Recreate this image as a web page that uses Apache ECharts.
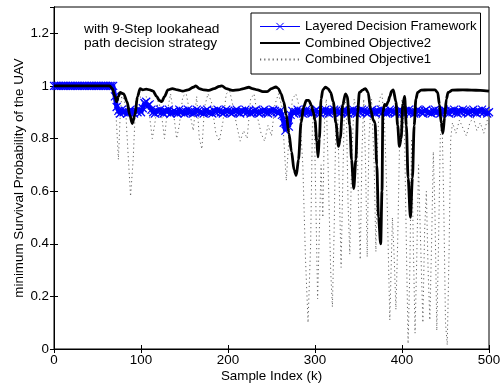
<!DOCTYPE html>
<html>
<head>
<meta charset="utf-8">
<script src="https://cdn.jsdelivr.net/npm/echarts@6/dist/echarts.min.js"></script>
<style>
  html, body { margin: 0; padding: 0; background: #fff; }
  #chart { width: 502px; height: 386px; }
</style>
</head>
<body>
<div id="chart"></div>
<script>
// survival probability vs sample index, three path decision strategies

const xTicks = [0, 100, 200, 300, 400, 500];
const yTicks = [0, 0.2, 0.4, 0.6, 0.8, 1, 1.2];

// Layered Decision Framework: one value every 2 samples (k = 0, 2, 4, ... 500)
const BLUE_STEP = 2;
const layeredY = [
  1, 1, 1, 1, 1, 1, 1, 1, 1, 1,
  1, 1, 1, 1, 1, 1, 1, 1, 1, 1,
  1, 1, 1, 1, 1, 1, 1, 1, 1, 1,
  1, 1, 1, 1, 1,
  0.96, 0.92, 0.905, 0.895, 0.91, 0.9, 0.905, 0.895, 0.9, 0.91,
  0.9, 0.895, 0.905, 0.9, 0.91, 0.9, 0.915, 0.935, 0.94, 0.925,
  0.93, 0.91, 0.9, 0.895, 0.905, 0.9, 0.91, 0.9, 0.895, 0.905,
  0.9, 0.91, 0.895, 0.9, 0.905, 0.9, 0.895, 0.91, 0.9, 0.905,
  0.895, 0.9, 0.91, 0.9, 0.905, 0.895, 0.9, 0.91, 0.905, 0.9,
  0.9, 0.895, 0.905, 0.91, 0.9, 0.9, 0.895, 0.905, 0.9, 0.91,
  0.905, 0.9, 0.895, 0.9, 0.91, 0.905, 0.9, 0.895, 0.9, 0.905,
  0.91, 0.9, 0.895, 0.905, 0.9, 0.91, 0.9, 0.905, 0.895, 0.9,
  0.905, 0.91, 0.9, 0.895, 0.9, 0.905, 0.91, 0.9, 0.895, 0.905,
  0.9, 0.91, 0.905, 0.9, 0.895,
  0.905, 0.89, 0.86, 0.83, 0.87, 0.845, 0.89, 0.905, 0.895, 0.9,
  0.91, 0.9, 0.905, 0.895, 0.9, 0.91, 0.9, 0.905, 0.895, 0.9,
  0.905, 0.91, 0.9, 0.895, 0.905, 0.9, 0.91, 0.9, 0.895, 0.905,
  0.9, 0.91, 0.905, 0.9, 0.895, 0.9, 0.905, 0.91, 0.9, 0.895,
  0.905, 0.9, 0.91, 0.9, 0.895, 0.905, 0.9, 0.91, 0.905, 0.9,
  0.895, 0.9, 0.905, 0.91, 0.9, 0.895, 0.905, 0.9, 0.91, 0.9,
  0.905, 0.895, 0.9, 0.91, 0.905, 0.9, 0.895, 0.9, 0.905, 0.91,
  0.9, 0.895, 0.905, 0.9, 0.91, 0.9, 0.905, 0.895, 0.9, 0.91,
  0.905, 0.9, 0.895, 0.905, 0.91, 0.9, 0.9, 0.895, 0.905, 0.91,
  0.9, 0.905, 0.895, 0.9, 0.91, 0.905, 0.9, 0.895, 0.905, 0.9,
  0.91, 0.9, 0.895, 0.905, 0.9, 0.91, 0.905, 0.9, 0.895, 0.9,
  0.905, 0.91, 0.9, 0.895, 0.905, 0.9, 0.91, 0.9, 0.905, 0.895,
  0.9
];

// Combined Objective2: [k, probability]
const objective2 = [
  [0, 1], [64, 1], [67, 0.99], [70, 0.96], [72, 0.94], [74, 0.96], [76, 0.975],
  [80, 0.97], [84, 0.94], [87, 0.89], [90, 0.857], [93, 0.89], [96, 0.96],
  [99, 0.99], [102, 0.985], [106, 0.988], [110, 0.985], [114, 0.98], [118, 0.96],
  [121, 0.945], [124, 0.94], [127, 0.96], [131, 0.985], [136, 0.99], [142, 0.985],
  [148, 0.98], [154, 0.985], [160, 0.995], [163, 1], [167, 0.99], [172, 0.985],
  [178, 0.983], [184, 0.99], [190, 0.998], [193, 1], [198, 0.99], [205, 0.983],
  [212, 0.985], [218, 0.99], [224, 0.995], [228, 0.99], [234, 0.985], [240, 0.978],
  [245, 0.978], [250, 0.99], [255, 0.996], [258, 0.99], [261, 0.97], [264, 0.94],
  [267, 0.89], [270, 0.82], [273, 0.75], [276, 0.68], [278.5, 0.66], [281, 0.72],
  [284, 0.86], [287, 0.92], [290, 0.945], [293, 0.945], [296, 0.925], [298, 0.9],
  [300, 0.87], [302, 0.79], [303.5, 0.73], [305, 0.8], [307, 0.95], [309, 0.985],
  [312, 0.995], [315, 0.99], [318, 0.975], [321, 0.94], [324, 0.86], [327, 0.77],
  [329, 0.8], [332, 0.93], [335, 0.97], [337, 0.96], [340, 0.85], [342, 0.72],
  [344.5, 0.61], [347, 0.72], [349, 0.9], [351, 0.975], [355, 0.985], [358, 0.99],
  [361, 0.975], [364, 0.91], [367, 0.87], [369, 0.86], [371, 0.7], [373, 0.5],
  [375.5, 0.4], [377, 0.6], [378, 0.9], [380, 0.93], [382, 0.925], [384, 0.94],
  [386, 0.96], [388, 0.98], [390, 0.985], [393, 0.94], [395, 0.85], [397, 0.77],
  [399, 0.8], [401, 0.93], [403, 0.96], [405, 0.85], [407, 0.65], [409.7, 0.5],
  [412, 0.65], [414, 0.85], [416, 0.95], [418, 0.975], [422, 0.984], [430, 0.985],
  [438, 0.985], [441, 0.975], [443, 0.93], [445, 0.86], [447, 0.82], [449, 0.88],
  [451, 0.95], [453, 0.975], [458, 0.984], [470, 0.985], [480, 0.984], [490, 0.983],
  [500, 0.98]
];

// Combined Objective1: [k, probability]
const objective1 = [
  [0, 1], [66, 1], [68, 0.98], [70, 0.95], [72, 0.85], [74, 0.72], [76, 0.88],
  [78, 0.97], [82, 0.93], [85, 0.75], [88, 0.58], [91, 0.72], [94, 0.95],
  [98, 0.97], [102, 0.93], [106, 0.96], [110, 0.88], [113, 0.8], [116, 0.86],
  [120, 0.95], [124, 0.88], [127, 0.8], [130, 0.9], [134, 0.97], [138, 0.88],
  [141, 0.8], [144, 0.85], [148, 0.96], [152, 0.97], [156, 0.9], [160, 0.83],
  [164, 0.96], [167, 0.8], [170, 0.76], [173, 0.92], [177, 0.97], [181, 0.94],
  [186, 0.82], [190, 0.79], [194, 0.86], [198, 0.97], [202, 0.98], [206, 0.92],
  [210, 0.85], [214, 0.79], [218, 0.83], [222, 0.8], [226, 0.95], [230, 0.97],
  [234, 0.88], [238, 0.82], [242, 0.79], [246, 0.85], [250, 0.81], [254, 0.93],
  [258, 0.97], [262, 0.92], [265, 0.75], [267, 0.64], [270, 0.8], [274, 0.95],
  [278, 0.97], [282, 0.92], [286, 0.7], [289, 0.35], [292, 0.1], [295, 0.4],
  [297, 0.85], [299, 0.9], [301, 0.55], [303, 0.19], [305, 0.45], [307, 0.7],
  [309, 0.5], [311, 0.88], [313, 0.95], [315, 0.7], [318, 0.3], [320, 0.16],
  [322, 0.45], [324, 0.88], [326, 0.92], [328, 0.6], [330, 0.31], [332, 0.65],
  [334, 0.95], [336, 0.92], [338, 0.55], [340, 0.36], [342, 0.7], [345, 0.95],
  [348, 0.9], [350, 0.55], [352, 0.34], [354, 0.75], [356, 0.95], [358, 0.72],
  [360, 0.35], [362, 0.8], [365, 0.95], [368, 0.7], [370, 0.37], [372, 0.78],
  [374, 0.95], [377, 0.97], [380, 0.85], [383, 0.55], [386, 0.11], [389, 0.5],
  [391, 0.35], [393, 0.15], [395, 0.4], [397, 0.75], [400, 0.95], [403, 0.8],
  [405, 0.4], [407, 0.02], [409, 0.3], [411, 0.8], [413, 0.4], [415, 0.06],
  [417, 0.35], [419, 0.7], [421, 0.45], [424, 0.1], [426, 0.45], [428, 0.6],
  [430, 0.3], [432, 0.11], [434, 0.4], [436, 0.75], [438, 0.5], [440, 0.07],
  [442, 0.4], [444, 0.8], [446, 0.88], [448, 0.55], [450, 0.1], [452, 0.015],
  [454, 0.35], [456, 0.8], [458, 0.86], [462, 0.82], [466, 0.87], [470, 0.84],
  [474, 0.81], [478, 0.86], [482, 0.88], [486, 0.83], [490, 0.86], [494, 0.82],
  [498, 0.87], [500, 0.85]
];

const FONT = '"Liberation Sans", Arial, Helvetica, sans-serif';
const labelStyle = { color: '#000', fontSize: 13.4, fontFamily: FONT };

const chart = echarts.init(document.getElementById('chart'), null, { renderer: 'canvas' });

const xBase = {
  type: 'value',
  min: xTicks[0],
  max: xTicks[xTicks.length - 1],
  interval: xTicks[1] - xTicks[0],
  nameMoveOverlap: false,
  axisLine: { show: true, lineStyle: { color: '#000', width: 1 } },
  axisTick: { show: true, inside: true, length: 4, lineStyle: { color: '#000' } },
  splitLine: { show: false },
};
const yBase = {
  type: 'value',
  min: 0,
  max: 1.3,
  interval: yTicks[1] - yTicks[0],
  nameMoveOverlap: false,
  axisLine: { show: true, lineStyle: { color: '#000', width: 1 } },
  axisTick: { show: true, inside: true, length: 4, lineStyle: { color: '#000' } },
  splitLine: { show: false },
};

chart.setOption({
  backgroundColor: '#fff',
  animation: false,
  grid: {
    left: 54, right: 13, top: 7, bottom: 37,
    outerBoundsMode: 'none',
    containLabel: false,
    show: true, borderColor: '#000', borderWidth: 1,
  },
  xAxis: [
    {
      ...xBase,
      position: 'bottom',
      axisLabel: { ...labelStyle, margin: 5 },
      name: 'Sample Index (k)',
      nameLocation: 'middle',
      nameGap: 20.5,
      nameTextStyle: labelStyle,
    },
    { ...xBase, position: 'top', axisLabel: { show: false } },
  ],
  yAxis: [
    {
      ...yBase,
      position: 'left',
      axisLabel: { ...labelStyle, margin: 5, showMaxLabel: false },
      name: 'minimum Survival Probability of the UAV',
      nameLocation: 'middle',
      nameRotate: 90,
      nameGap: 28.5,
      nameTextStyle: labelStyle,
    },
    { ...yBase, position: 'right', axisLabel: { show: false } },
  ],
  legend: {
    orient: 'vertical',
    left: 251,
    top: 13,
    itemWidth: 40,
    itemHeight: 9,
    itemGap: 3.5,
    padding: [7, 4, 8, 8],
    borderColor: '#000',
    borderWidth: 1,
    backgroundColor: '#fff',
    textStyle: { ...labelStyle, fontSize: 13.2 },
    data: [
      { name: 'Layered Decision Framework', lineStyle: { width: 1 }, itemStyle: { borderWidth: 1 } },
      { name: 'Combined Objective2' },
      { name: 'Combined Objective1' },
    ],
  },
  graphic: [
    {
      type: 'text',
      left: 84,
      top: 22,
      style: {
        text: 'with 9-Step lookahead\npath decision strategy',
        font: '13.7px ' + FONT,
        fill: '#000',
        lineHeight: 14,
      },
    },
  ],
  series: [
    {
      name: 'Layered Decision Framework',
      type: 'line',
      xAxisIndex: 0,
      yAxisIndex: 0,
      data: layeredY.map((v, i) => [i * BLUE_STEP, v]),
      symbol: 'path://M0,0L10,10M10,0L0,10',
      symbolSize: 8,
      showAllSymbol: true,
      itemStyle: { color: '#0000ff', borderColor: '#0000ff', borderWidth: 1.2 },
      lineStyle: { color: '#0000ff', width: 4.5 },
      z: 3,
    },
    {
      name: 'Combined Objective2',
      type: 'line',
      xAxisIndex: 0,
      yAxisIndex: 0,
      data: objective2,
      symbol: 'none',
      smooth: 0.3,
      smoothMonotone: 'x',
      itemStyle: { color: 'transparent', borderWidth: 0 },
      lineStyle: { color: '#000', width: 2.8 },
      z: 4,
    },
    {
      name: 'Combined Objective1',
      type: 'line',
      xAxisIndex: 0,
      yAxisIndex: 0,
      data: objective1,
      symbol: 'none',
      itemStyle: { color: 'transparent', borderWidth: 0 },
      lineStyle: { color: '#666', width: 1, type: [1.2, 3] },
      z: 2,
    },
  ],
});
</script>
</body>
</html>
